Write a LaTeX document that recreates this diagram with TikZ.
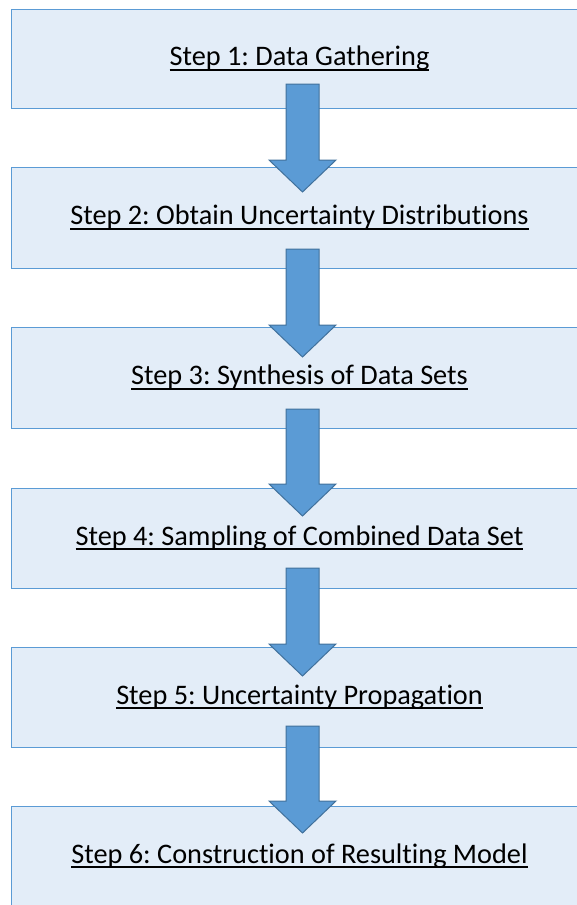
\documentclass[tikz,border=0pt]{standalone}
\usepackage{fontspec}
\setmainfont[Ligatures=NoCommon]{Carlito}
\frenchspacing
\definecolor{boxfill}{HTML}{E3EDF8}
\definecolor{boxline}{HTML}{5B9BD5}
\definecolor{arrowfill}{HTML}{5B9BD5}
\definecolor{arrowline}{HTML}{41719C}
% underline drawn through the descenders, Word style
\newcommand{\stepline}[1]{\setbox0\hbox{#1}\rlap{\vrule height -3.4pt depth 5.1pt width \wd0}\box0}
\begin{document}
\begin{tikzpicture}[x=1pt,y=-1pt,
  stepbox/.style={draw=boxline,line width=1pt,fill=boxfill},
  steptext/.style={inner sep=0pt,anchor=base,font=\fontsize{28.3}{34}\selectfont,text=black},
  flowarrow/.style={fill=arrowfill,draw=arrowline,line width=1pt,line join=miter}]
\useasboundingbox (0,0) rectangle (577,905);
\clip (0,0) rectangle (577,905);
% step boxes (top, bottom)
\foreach \i/\t/\b in {1/9/108,2/167/268,3/327/428,4/488/588,5/647/747,6/806/906}{
  \path[stepbox] (11,\t) rectangle (595,\b);
  \coordinate (c\i) at (299.5,{(\t+\b)/2+7});
}
\node[steptext] (t1) at (c1) {\stepline{Step 1: Data Gathering}};
\node[steptext] (t2) at (c2) {\stepline{Step 2: Obtain Uncertainty Distributions}};
\node[steptext] (t3) at (c3) {\stepline{Step 3: Synthesis of Data Sets}};
\node[steptext] (t4) at (c4) {\stepline{Step 4: Sampling of Combined Data Set}};
\node[steptext] (t5) at (c5) {\stepline{Step 5: Uncertainty Propagation}};
\node[steptext] (t6) at (c6) {\stepline{Step 6: Construction of Resulting Model}};
% block arrows between the steps (shaft top, tip)
\foreach \a/\s/\e in {1/84/192,2/249/357,3/409/516,4/568/676,5/726/833}{
  \draw[flowarrow] (286,\s) -- (319,\s) -- (319,\e-32) -- (336,\e-32) -- (302.5,\e)
    -- (269,\e-32) -- (286,\e-32) -- cycle;
}
\end{tikzpicture}
\end{document}
